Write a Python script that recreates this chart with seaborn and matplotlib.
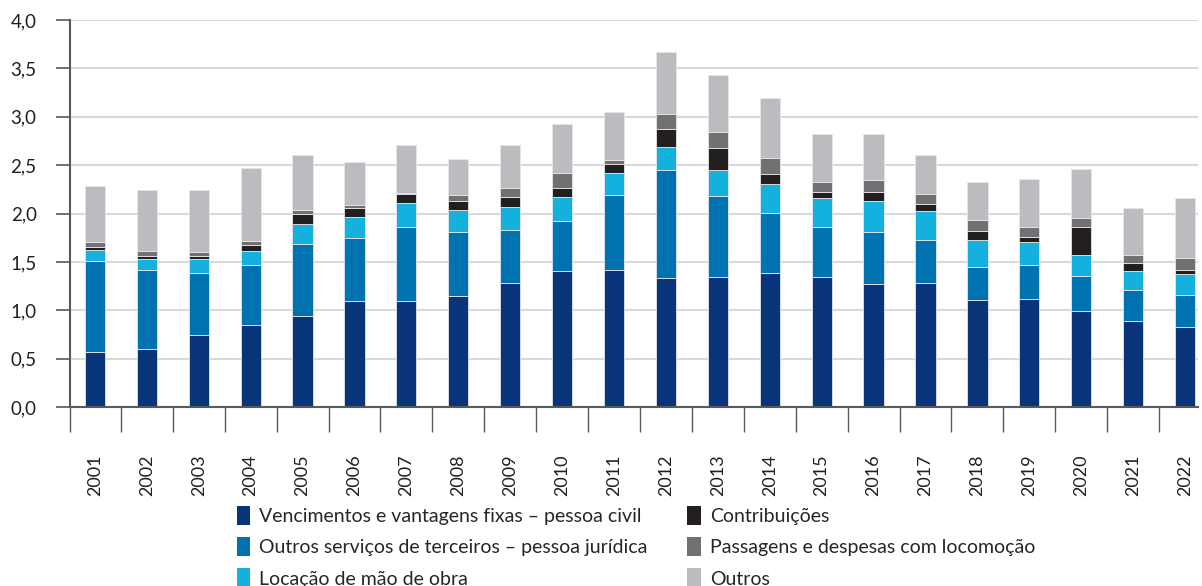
import numpy as np
import pandas as pd
import matplotlib.pyplot as plt
from matplotlib.patches import Patch
import seaborn as sns

sns.set_style('white')
plt.rcParams['font.family'] = ['Lato', 'DejaVu Sans']

# Data
anos = [str(a) for a in range(2001, 2023)]

vencimentos = [0.57, 0.60, 0.74, 0.85, 0.94, 1.10, 1.10, 1.15, 1.285, 1.41, 1.42,
               1.33, 1.34, 1.38, 1.34, 1.27, 1.285, 1.11, 1.12, 0.99, 0.89, 0.83]
outros_servicos = [0.94, 0.82, 0.65, 0.62, 0.745, 0.65, 0.76, 0.66, 0.545, 0.515, 0.77,
                   1.115, 0.84, 0.63, 0.52, 0.535, 0.445, 0.335, 0.35, 0.36, 0.32, 0.325]
locacao = [0.11, 0.11, 0.14, 0.14, 0.205, 0.21, 0.245, 0.23, 0.24, 0.245, 0.23,
           0.245, 0.27, 0.29, 0.30, 0.32, 0.30, 0.285, 0.24, 0.22, 0.195, 0.215]
contribuicoes = [0.03, 0.03, 0.03, 0.06, 0.10, 0.10, 0.095, 0.09, 0.10, 0.09, 0.095,
                 0.18, 0.23, 0.11, 0.06, 0.095, 0.07, 0.09, 0.045, 0.29, 0.085, 0.05]
passagens = [0.055, 0.05, 0.04, 0.045, 0.05, 0.03, 0.015, 0.06, 0.09, 0.16, 0.04,
             0.155, 0.165, 0.16, 0.11, 0.13, 0.10, 0.11, 0.105, 0.097, 0.085, 0.12]
outros = [0.575, 0.63, 0.64, 0.755, 0.56, 0.445, 0.49, 0.37, 0.445, 0.505, 0.495,
          0.64, 0.585, 0.62, 0.495, 0.475, 0.40, 0.395, 0.50, 0.503, 0.485, 0.62]

series = ['Vencimentos e vantagens fixas – pessoa civil',
          'Outros serviços de terceiros – pessoa jurídica',
          'Locação de mão de obra',
          'Contribuições',
          'Passagens e despesas com locomoção',
          'Outros']
cores = ['#0a347a', '#0072b0', '#14b0de', '#231f20', '#717174', '#bbbcbf']

df = pd.DataFrame({'ano': anos,
                   series[0]: vencimentos,
                   series[1]: outros_servicos,
                   series[2]: locacao,
                   series[3]: contribuicoes,
                   series[4]: passagens,
                   series[5]: outros})

fig = plt.figure(figsize=(12.02, 5.86), dpi=100)
ax = fig.add_axes([70 / 1202, 1 - 407 / 586, 1128 / 1202, 387 / 586])

# stacked bars
base = np.zeros(len(anos))
for s, c in zip(series, cores):
    sns.barplot(data=df, x='ano', y=s, color=c, saturation=1, width=0.39,
                bottom=base, errorbar=None, edgecolor='#e6e6e6', linewidth=0.6, ax=ax)
    base = base + df[s].values

ax.set_ylim(0, 4.0)
ax.set_xlim(-0.48, 21.25)
ax.set_yticks(np.arange(0, 4.01, 0.5))
ax.set_yticklabels([f'{v:.1f}'.replace('.', ',') for v in np.arange(0, 4.01, 0.5)])
ax.yaxis.grid(True, color='#d9d9d9', linewidth=1.5)
ax.set_axisbelow(True)
ax.set_xlabel('')
ax.set_ylabel('')

for sp in ['top', 'right']:
    ax.spines[sp].set_visible(False)
for sp in ['left', 'bottom']:
    ax.spines[sp].set_color('#58595b')
    ax.spines[sp].set_linewidth(1.5)

ax.tick_params(axis='y', length=10, width=1.2, color='#58595b', pad=14,
               labelsize=13.5, labelcolor='#231f20', left=True)
ax.set_xticks(range(len(anos)))
ax.set_xticklabels(anos, rotation=90)
ax.tick_params(axis='x', which='major', length=0, pad=34, labelsize=13,
               labelcolor='#231f20')
ax.set_xticks([-0.48] + list(np.arange(0.5, 21, 1.0)), minor=True)
ax.tick_params(axis='x', which='minor', length=18, width=1.0, color='#58595b', bottom=True)

handles = [Patch(facecolor=c, edgecolor='none') for c in cores]
fig.legend(handles, series, ncol=2, loc='upper left',
           bbox_to_anchor=(229 / 1202, 1 - 498 / 586), frameon=False,
           fontsize=14, handlelength=0.7, handleheight=1.15, handletextpad=0.45,
           labelspacing=0.62, columnspacing=2.05, borderaxespad=0)

fig.savefig('out.png', dpi=100)
